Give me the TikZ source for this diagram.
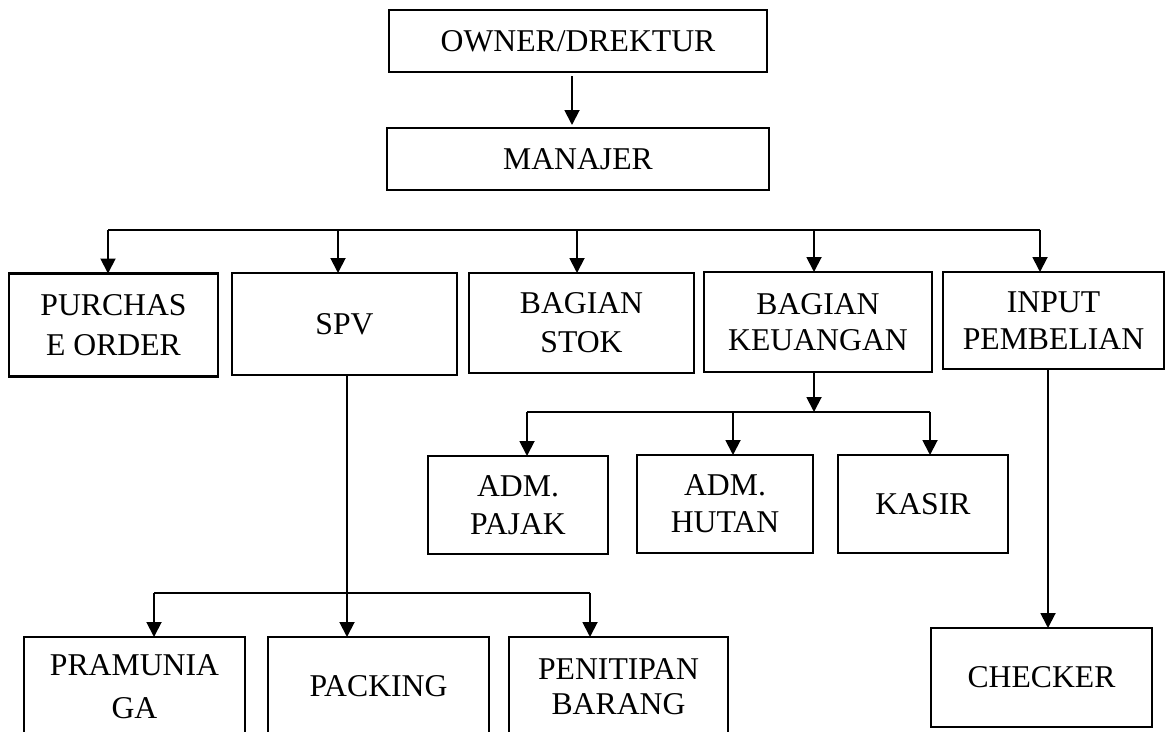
\documentclass[tikz,border=0pt]{standalone}
\usepackage{fontspec}
\setmainfont{Liberation Serif}
\usetikzlibrary{arrows.meta}
\newcommand\orgfont[1]{\fontsize{31.7}{#1}\selectfont}
\tikzset{
  orgbox/.style={draw, line width=2.7pt, inner sep=0pt, outer sep=0pt, align=center, font=\orgfont{38}},
  conn/.style={line width=1.9pt},
  arr/.style={conn, -{Triangle[length=15pt,width=15pt]}}
}
\begin{document}
\begin{tikzpicture}[x=1pt,y=-1pt]
\useasboundingbox (0,0) rectangle (1166,731);
\clip (0,0) rectangle (1166,731);
% level 0/1
\node[orgbox, minimum width=378pt, minimum height=62pt] (owner) at (578,41) {OWNER/DREKTUR};
\node[orgbox, minimum width=382pt, minimum height=62pt] (manajer) at (578,159) {MANAJER};
\draw[arr] ([xshift=-6pt,yshift=-4pt]owner.south) -- ([xshift=-6pt,yshift=3pt]manajer.north);
% level 2
\node[orgbox, minimum width=209pt, minimum height=103pt, font=\orgfont{40}] (purchase) at (113.5,325) {PURCHAS\\E ORDER};
\node[orgbox, minimum width=225pt, minimum height=102pt] (spv) at (344.5,324) {SPV};
\node[orgbox, minimum width=225pt, minimum height=100pt, font=\orgfont{39}] (stok) at (581.5,323) {BAGIAN\\STOK};
\node[orgbox, minimum width=228pt, minimum height=100pt, font=\orgfont{36}] (keu) at (818,322) {BAGIAN\\KEUANGAN};
\node[orgbox, minimum width=221pt, minimum height=97pt, font=\orgfont{36.5}] (input) at (1053.5,320.5) {INPUT\\PEMBELIAN};
\coordinate (b1) at (108,230);
\coordinate (b2) at (338,230);
\coordinate (b3) at (577,230);
\coordinate (b4) at (814,230);
\coordinate (b5) at (1040,230);
\draw[conn] (b1) -- (b5);
\draw[arr] (b1) -- (b1 |- purchase.north);
\draw[arr] (b2) -- (b2 |- spv.north);
\draw[arr] (b3) -- (b3 |- stok.north);
\draw[arr] (b4) -- (b4 |- keu.north);
\draw[arr] (b5) -- (b5 |- input.north);
% level 3 (keuangan)
\node[orgbox, minimum width=180pt, minimum height=98pt] (pajak) at (518,505) {ADM.\\PAJAK};
\node[orgbox, minimum width=176pt, minimum height=98pt, font=\orgfont{37}] (hutan) at (725,504) {ADM.\\HUTAN};
\node[orgbox, minimum width=170pt, minimum height=98pt] (kasir) at (923,504) {KASIR};
\coordinate (k0) at (814,412);
\coordinate (k1) at (527,412);
\coordinate (k2) at (733,412);
\coordinate (k3) at (930,412);
\draw[arr] (keu.south -| k0) -- (k0);
\draw[conn] (k1) -- (k3);
\draw[arr] (k1) -- (k1 |- pajak.north);
\draw[arr] (k2) -- (k2 |- hutan.north);
\draw[arr] (k3) -- (k3 |- kasir.north);
% level 3 (spv)
\node[orgbox, minimum width=221pt, minimum height=99pt, font=\orgfont{43}] (pram) at (134.5,686.5) {PRAMUNIA\\GA};
\node[orgbox, minimum width=221pt, minimum height=99pt] (packing) at (378.5,686.5) {PACKING};
\node[orgbox, minimum width=219pt, minimum height=99pt, font=\orgfont{35.5}] (penitipan) at (618.5,686.5) {PENITIPAN\\BARANG};
\coordinate (s0) at (347,593);
\coordinate (s1) at (154,593);
\coordinate (s2) at (590,593);
\draw[arr] (spv.south -| s0) -- (s0 |- packing.north);
\draw[conn] (s1) -- (s2);
\draw[arr] (s1) -- (s1 |- pram.north);
\draw[arr] (s2) -- (s2 |- penitipan.north);
% checker
\node[orgbox, minimum width=221pt, minimum height=99pt] (checker) at (1041.5,677.5) {CHECKER};
\coordinate (c0) at (1048,400);
\draw[arr] (input.south -| c0) -- (c0 |- checker.north);
\end{tikzpicture}
\end{document}
